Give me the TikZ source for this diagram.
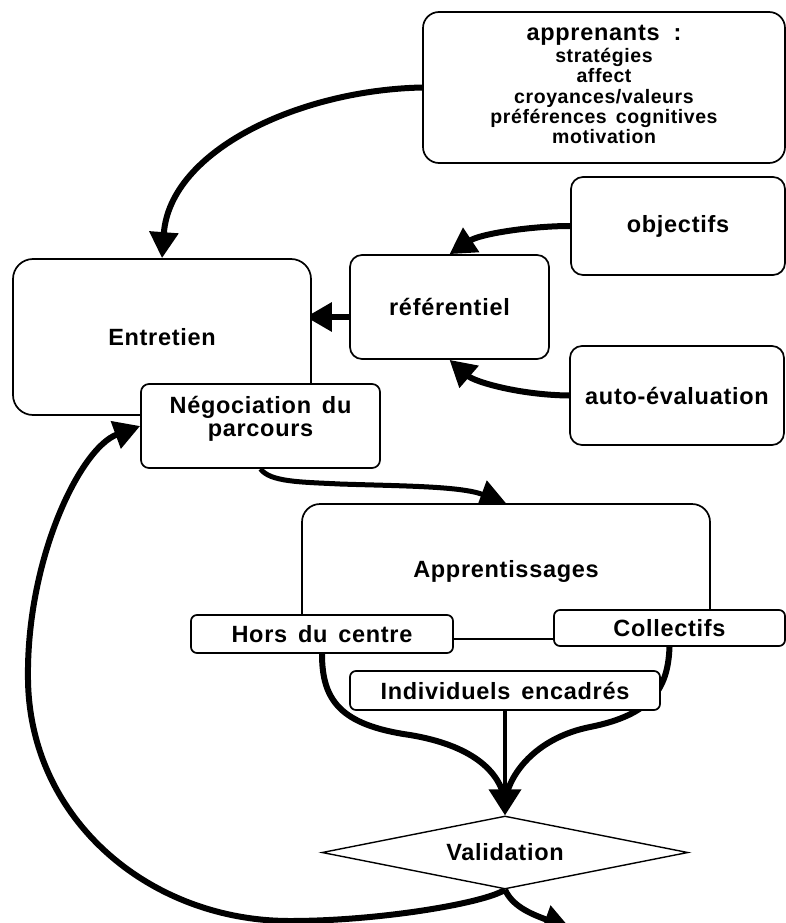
\documentclass[tikz,border=0pt]{standalone}
\usepackage{fontspec}
\setmainfont{Liberation Sans}[LetterSpace=3,WordSpace=1.5]
\usetikzlibrary{arrows.meta,shapes.geometric}
\pgfdeclarelayer{bg}
\pgfsetlayers{bg,main}
\begin{document}
\begin{tikzpicture}[x=1pt,y=-1pt,
  box/.style={draw,line width=1.7pt,fill=white,rounded corners=#1,inner sep=0pt,align=center,
    font=\fontsize{23.5}{23}\selectfont\bfseries},
  box/.default=12pt,
  conn/.style={line width=6pt,-{Triangle[length=26pt,width=28pt]}}]
\useasboundingbox (0,0) rectangle (786,923);

% nodes
\node[box=16pt,minimum width=362pt,minimum height=151pt,font=\fontsize{19.5}{20.3}\selectfont\bfseries] (apr) at (604,87.5)
  {\begin{tabular}{@{}c@{}}{\fontsize{23.5}{24}\selectfont apprenants\hspace{14pt}:}\\[2pt]stratégies\\affect\\croyances/valeurs\\préférences cognitives\\motivation\end{tabular}};
\node[box,minimum width=214pt,minimum height=98pt] (obj) at (678,226) {objectifs};
\node[box,minimum width=199pt,minimum height=104pt] (ref) at (449.5,307) {référentiel};
\node[box,minimum width=214pt,minimum height=99pt] (auto) at (677,395.5) {auto-évaluation};
\node[box=20pt,minimum width=298pt,minimum height=156pt] (ent) at (162,337) {Entretien};
\node[box=8pt,minimum width=239pt,minimum height=84pt] (neg) at (260.5,426) {Négociation du\\parcours\\[-3pt]\mbox{}};
\node[box=18pt,minimum width=408pt,minimum height=135pt] (appr) at (506,571.5) {Apprentissages};
\node[box=6pt,minimum width=262pt,minimum height=38pt] (hors) at (322,634) {Hors du centre};
\node[box=6pt,minimum width=231pt,minimum height=36pt] (coll) at (669.5,628) {Collectifs};
\node[box=6pt,minimum width=310pt,minimum height=39pt] (ind) at (505,690.5) {Individuels encadrés};
\node[diamond,draw,line width=1.4pt,fill=white,minimum width=366pt,minimum height=73pt,inner sep=0pt,
  shape aspect=5,font=\fontsize{23.5}{23}\selectfont\bfseries] (val) at (505,852.5) {Validation};
\coordinate (outend) at (570,928);

\begin{pgfonlayer}{bg}
\fill[white] (0,0) rectangle (786,923);
\draw[conn] (apr.west) .. controls (300,90) and (170,150) .. (ent.north);
\draw[conn] (obj.west) .. controls (530,226) and (480,234) .. (ref.north);
\draw[conn] (auto.west) .. controls (520,395) and (475,382) .. (ref.south);
\draw[conn] ([yshift=-10pt]ref.west) -- ([xshift=-6pt,yshift=20pt]ent.east);
\draw[conn,line width=5pt] (neg.south) .. controls (270,482) and (300,482) .. (340,484)
  .. controls (400,486) and (460,486) .. (appr.north);
\draw[line width=6pt] (hors.south) .. controls (322,700) and (340,725) .. (410,735)
  .. controls (470,745) and (500,770) .. ([yshift=14pt]val.north);
\draw[line width=6pt] (coll.south) .. controls (668,690) and (650,715) .. (590,727)
  .. controls (540,737) and (510,770) .. ([yshift=14pt]val.north);
\draw[line width=4pt,-{Triangle[length=26pt,width=32pt]}] (ind.south) -- (val.north);
\draw[conn] (val.south) .. controls (485,903) and (380,921) .. (290,921)
  .. controls (150,921) and (30,820) .. (28,680)
  .. controls (26,560) and (80,448) .. (neg.west);
\draw[conn] (val.south) .. controls (512,905) and (528,913) .. (outend);
\end{pgfonlayer}
\end{tikzpicture}
\end{document}
